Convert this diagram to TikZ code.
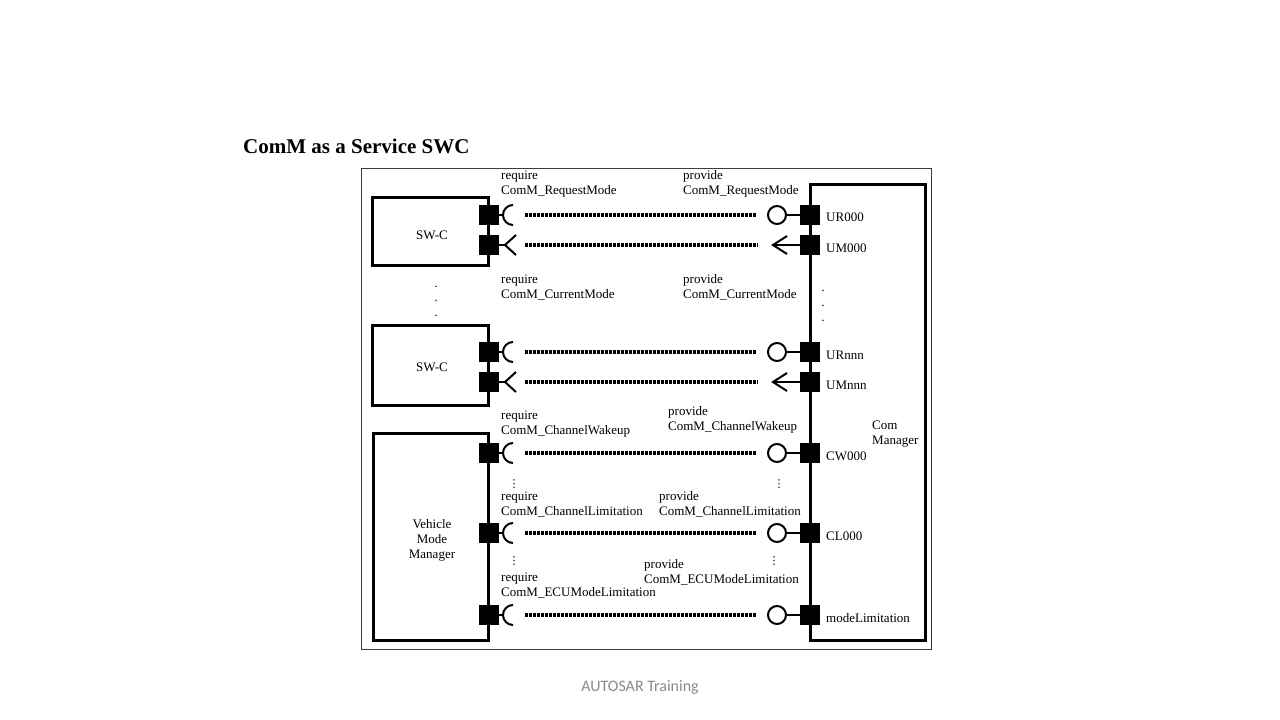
\documentclass[tikz,border=0pt]{standalone}
\usepackage{fontspec}
\setmainfont{Liberation Serif}
\newfontfamily\footfont{Carlito}
\newfontfamily\dejavu{DejaVu Sans}
\definecolor{footgray}{RGB}{137,137,137}
\definecolor{framegray}{RGB}{60,60,60}
\begin{document}
\begin{tikzpicture}[x=1pt,y=-1pt,
  box/.style={draw, line width=3pt, inner sep=0pt, font=\fontsize{13}{15}\selectfont, align=center},
  port/.style={fill=black, minimum width=20pt, minimum height=20pt, inner sep=0pt},
  ball/.style={circle, draw, line width=2pt, minimum size=18pt, inner sep=0pt},
  conn/.style={line width=2pt},
  dotline/.style={line width=3.5pt, dash pattern=on 3pt off 1pt},
  lbl/.style={font=\fontsize{13}{15}\selectfont, inner sep=0pt, align=left, anchor=base west},
  dotmark/.style={font=\fontsize{13}{15}\selectfont, inner sep=0pt},
  vdotmark/.style={font=\dejavu\fontsize{11}{11}\selectfont, inner sep=0pt},
]
\useasboundingbox (0,0) rectangle (1280,720);

% title and footer
\node[font=\bfseries\fontsize{21}{25}\selectfont, anchor=base west, inner sep=0pt] (title) at (243,153) {ComM as a Service SWC};
\node[font=\footfont\fontsize{16}{18}\selectfont, text=footgray, inner sep=0pt] (foot) at (640,687) {AUTOSAR Training};

% outer frame
\draw[framegray, line width=1pt] (361,168) rectangle (931,649);

% component boxes
\node[box, minimum width=116pt, minimum height=68pt] (swc1) at (430,231) {};
\node[font=\fontsize{13}{15}\selectfont, inner sep=0pt] (swc1t) at (432,235) {SW-C};
\node[box, minimum width=116pt, minimum height=80pt] (swc2) at (430,365) {};
\node[font=\fontsize{13}{15}\selectfont, inner sep=0pt] (swc2t) at (432,367) {SW-C};
\node[box, minimum width=115pt, minimum height=207pt] (vmm) at (430.5,536.5) {};
\node[font=\fontsize{13}{15}\selectfont, inner sep=0pt, align=center] (vmmt) at (432,540) {Vehicle\\Mode\\Manager};
\node[box, minimum width=115pt, minimum height=456pt] (comm) at (867.5,412) {};
\node[lbl] (commt) at (872,444) {Com\\Manager};

% ball / socket rows
\foreach \i/\y in {1/215,3/352,5/453,6/533,7/615}{
  \node[port] (L\i) at (489,\y) {};
  \node[port] (R\i) at (810,\y) {};
  \node[ball] (B\i) at (777,\y) {};
  \draw[conn] (R\i.west) -- (B\i.east);
  \coordinate (S\i) at (503,\y);
  \draw[conn] (L\i.east) -- (S\i);
  \draw[conn] ([shift={(10,10)}]S\i) arc[start angle=90,end angle=270,radius=10];
  \draw[dotline] ([xshift=22pt]S\i) -- ([xshift=-10pt]B\i.west);
}
% mode (arrow) rows
\foreach \i/\y in {2/245,4/382}{
  \node[port] (L\i) at (489,\y) {};
  \node[port] (R\i) at (810,\y) {};
  \coordinate (T\i) at (505,\y);
  \draw[conn] (L\i.east) -- (T\i);
  \draw[conn] ([shift={(11,-10)}]T\i) -- (T\i) -- ([shift={(11,10)}]T\i);
  \coordinate (A\i) at (773,\y);
  \draw[conn] (R\i.west) -- (A\i);
  \draw[conn] ([shift={(14,-9)}]A\i) -- (A\i) -- ([shift={(14,9)}]A\i);
  \draw[dotline] ([xshift=20pt]T\i) -- ([xshift=-15pt]A\i);
}

% interface labels (anchor at baseline of last line)
\node[lbl] (rq1) at (501,194) {require\\ComM\_RequestMode};
\node[lbl] (pr1) at (683,194) {provide\\ComM\_RequestMode};
\node[lbl] (rq2) at (501,298) {require\\ComM\_CurrentMode};
\node[lbl] (pr2) at (683,298) {provide\\ComM\_CurrentMode};
\node[lbl] (rq3) at (501,434) {require\\ComM\_ChannelWakeup};
\node[lbl] (pr3) at (668,430) {provide\\ComM\_ChannelWakeup};
\node[lbl] (rq4) at (501,515) {require\\ComM\_ChannelLimitation};
\node[lbl] (pr4) at (659,515) {provide\\ComM\_ChannelLimitation};
\node[lbl] (rq5) at (501,596) {require\\ComM\_ECUModeLimitation};
\node[lbl] (pr5) at (644,583) {provide\\ComM\_ECUModeLimitation};

% port labels
\node[lbl] (p1) at (826,221) {UR000};
\node[lbl] (p2) at (826,252) {UM000};
\node[lbl] (p3) at (826,359) {URnnn};
\node[lbl] (p4) at (826,389) {UMnnn};
\node[lbl] (p5) at (826,460) {CW000};
\node[lbl] (p6) at (826,540) {CL000};
\node[lbl] (p7) at (826,622) {modeLimitation};

% ellipsis dots
\node[dotmark] (dl1) at (436,287) {.};
\node[dotmark] (dl2) at (436,301) {.};
\node[dotmark] (dl3) at (436,316) {.};
\node[dotmark] (dr1) at (823,291) {.};
\node[dotmark] (dr2) at (823,306) {.};
\node[dotmark] (dr3) at (823,321) {.};
\node[vdotmark] (v1) at (514,484) {⋮};
\node[vdotmark] (v2) at (779,484) {⋮};
\node[vdotmark] (v3) at (514,561) {⋮};
\node[vdotmark] (v4) at (774,561) {⋮};
\end{tikzpicture}
\end{document}
